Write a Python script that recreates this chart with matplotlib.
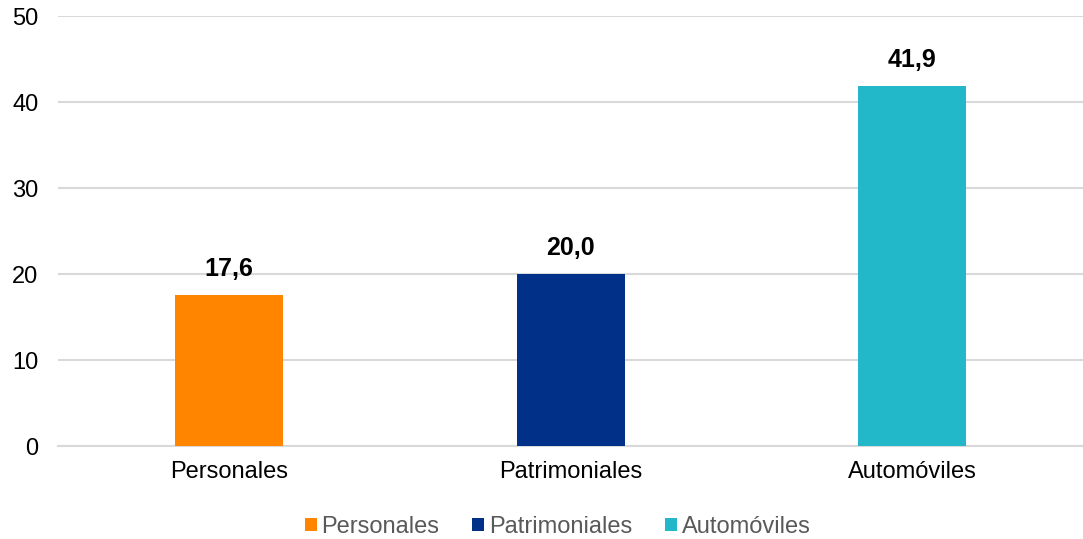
import matplotlib.pyplot as plt
from matplotlib.patches import Patch

categories = ['Personales', 'Patrimoniales', 'Automóviles']
values = [17.6, 20.0, 41.9]
colors = ['#FF8500', '#003087', '#22B8CA']
y_ticks = [0, 10, 20, 30, 40, 50]

plt.rcParams['font.family'] = ['Liberation Sans', 'DejaVu Sans']

fig = plt.figure(figsize=(10.83, 5.39), dpi=100)
ax = fig.add_axes([0.0536, 0.1725, 0.9464, 0.7978])

x = range(len(categories))
bars = ax.bar(x, values, width=0.316, color=colors, zorder=3)

# value labels with comma decimal separator
for bar, v in zip(bars, values):
    ax.text(bar.get_x() + bar.get_width() / 2, v + 1.6, f'{v:.1f}'.replace('.', ','),
            ha='center', va='bottom', fontsize=18, fontweight='bold', color='black')

ax.set_xlim(-0.5, 2.5)
ax.set_ylim(0, 50)
ax.set_yticks(y_ticks)
ax.set_xticks(list(x))
ax.set_xticklabels(categories)
ax.tick_params(axis='both', length=0, labelsize=17, colors='black')
ax.tick_params(axis='y', pad=14)
ax.tick_params(axis='x', pad=11)

ax.yaxis.grid(True, color='#D9D9D9', linewidth=1.5, zorder=0)
for s in ['top', 'right', 'left']:
    ax.spines[s].set_visible(False)
ax.spines['bottom'].set_color('#D9D9D9')
ax.spines['bottom'].set_linewidth(1.5)

handles = [Patch(facecolor=c, label=l) for c, l in zip(colors, categories)]
fig.legend(handles=handles, loc='center', bbox_to_anchor=(0.515, 0.022), ncol=3,
           frameon=False, fontsize=17, handlelength=0.5, handleheight=0.5,
           handletextpad=0.2, columnspacing=1.4, labelcolor='#595959',
           borderpad=0)

fig.savefig('out.png', dpi=100)
